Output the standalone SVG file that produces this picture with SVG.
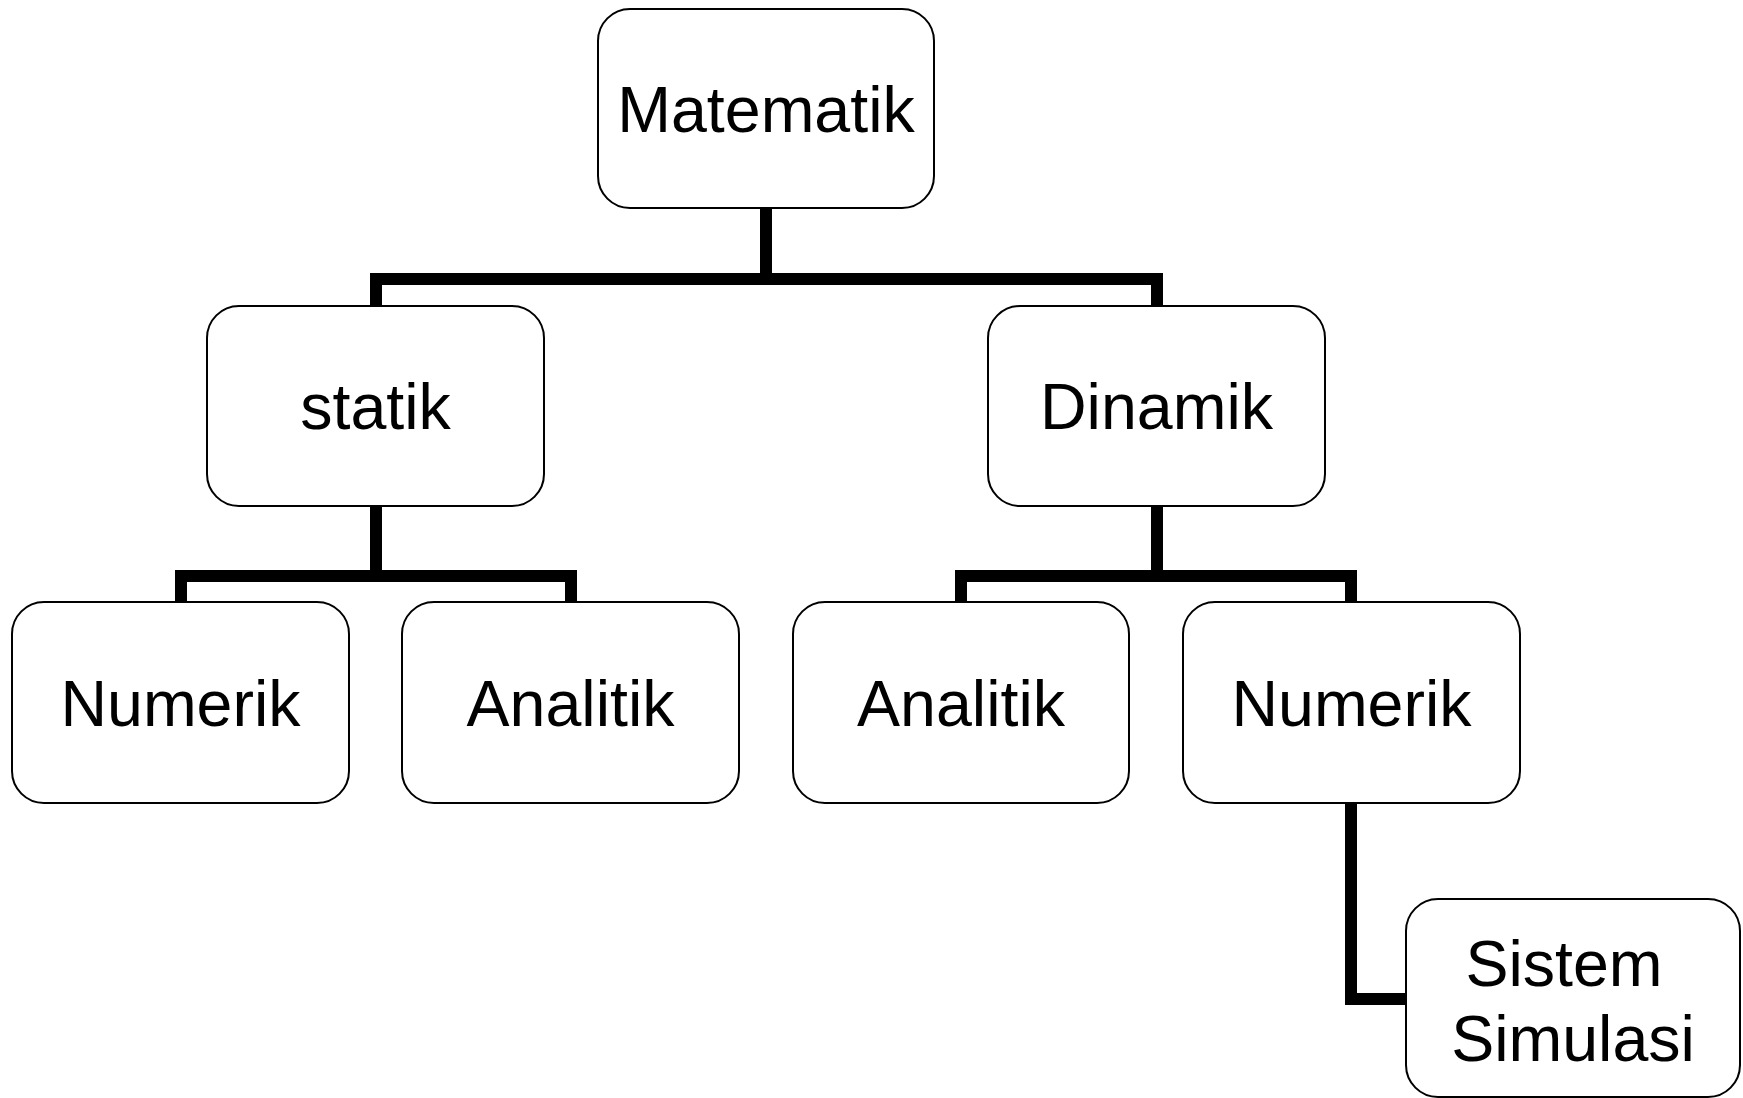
<svg xmlns="http://www.w3.org/2000/svg" width="1743" height="1098" viewBox="0 0 1743 1098">
  <style>
    .box { fill: #ffffff; stroke: #000000; stroke-width: 2; }
    .lbl { font-family: "Liberation Sans", Arial, sans-serif; font-size: 64.5px; fill: #000000; text-anchor: middle; }
    .wire { fill: none; stroke: #000000; stroke-width: 12; stroke-linejoin: miter; stroke-linecap: butt; }
  </style>
  <rect width="1743" height="1098" fill="#ffffff"/>

  <!-- connectors -->
  <g id="connectors">
    <path class="wire" d="M766,208 V279"/>
    <path class="wire" d="M376,306 V279 H1157 V306"/>
    <path class="wire" d="M376,506 V576"/>
    <path class="wire" d="M181,602 V576 H571 V602"/>
    <path class="wire" d="M1157,506 V576"/>
    <path class="wire" d="M961,602 V576 H1351 V602"/>
    <path class="wire" d="M1351,803 V999 H1406"/>
  </g>

  <!-- nodes -->
  <g id="matematik">
    <rect class="box" x="598" y="9" width="336" height="199" rx="32" ry="32"/>
    <text class="lbl" x="766" y="132">Matematik</text>
  </g>
  <g id="statik">
    <rect class="box" x="207" y="306" width="337" height="200" rx="32" ry="32"/>
    <text class="lbl" x="375.5" y="429">statik</text>
  </g>
  <g id="dinamik">
    <rect class="box" x="988" y="306" width="337" height="200" rx="32" ry="32"/>
    <text class="lbl" x="1156.5" y="429">Dinamik</text>
  </g>
  <g id="numerik-statik">
    <rect class="box" x="12" y="602" width="337" height="201" rx="32" ry="32"/>
    <text class="lbl" x="180.5" y="726">Numerik</text>
  </g>
  <g id="analitik-statik">
    <rect class="box" x="402" y="602" width="337" height="201" rx="32" ry="32"/>
    <text class="lbl" x="570.5" y="726">Analitik</text>
  </g>
  <g id="analitik-dinamik">
    <rect class="box" x="793" y="602" width="336" height="201" rx="32" ry="32"/>
    <text class="lbl" x="961" y="726">Analitik</text>
  </g>
  <g id="numerik-dinamik">
    <rect class="box" x="1183" y="602" width="337" height="201" rx="32" ry="32"/>
    <text class="lbl" x="1351.5" y="726">Numerik</text>
  </g>
  <g id="sistem-simulasi">
    <rect class="box" x="1406" y="899" width="334" height="198" rx="32" ry="32"/>
    <text class="lbl" x="1564" y="986">Sistem</text>
    <text class="lbl" x="1573" y="1061">Simulasi</text>
  </g>
</svg>
